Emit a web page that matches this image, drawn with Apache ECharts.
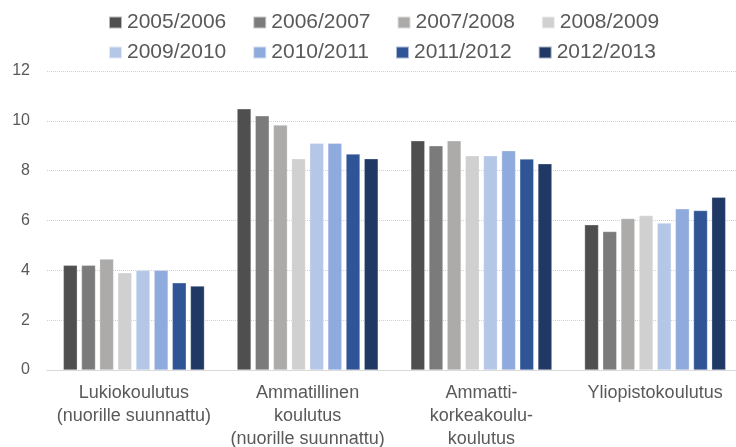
<!DOCTYPE html>
<html>
<head>
<meta charset="utf-8">
<script src="https://cdn.jsdelivr.net/npm/echarts@6/dist/echarts.min.js"></script>
<style>html,body{margin:0;padding:0;background:#fff;}#c{width:736px;height:447px;}</style>
</head>
<body>
<div id="c"></div>
<script>
var categories = ['Lukiokoulutus\n(nuorille suunnattu)', 'Ammatillinen\nkoulutus\n(nuorille suunnattu)', 'Ammatti-\nkorkeakoulu-\nkoulutus', 'Yliopistokoulutus'];
var seriesNames = ['2005/2006', '2006/2007', '2007/2008', '2008/2009', '2009/2010', '2010/2011', '2011/2012', '2012/2013'];
var s2005 = [4.2, 10.48, 9.2, 5.83];
var s2006 = [4.2, 10.2, 9.0, 5.56];
var s2007 = [4.45, 9.83, 9.2, 6.08];
var s2008 = [3.9, 8.48, 8.6, 6.2];
var s2009 = [4.0, 9.1, 8.6, 5.9];
var s2010 = [4.0, 9.1, 8.8, 6.47];
var s2011 = [3.5, 8.67, 8.47, 6.4];
var s2012 = [3.37, 8.48, 8.28, 6.93];
var yTicks = [0, 2, 4, 6, 8, 10, 12];
var colors = ['#4f4f4f', '#7b7b7b', '#adabaa', '#d1d0d0', '#b4c7e7', '#8faadc', '#2f5597', '#203864'];
var allData = [s2005, s2006, s2007, s2008, s2009, s2010, s2011, s2012];

var chart = echarts.init(document.getElementById('c'));
var textStyle = {color: '#595959', fontFamily: 'Liberation Sans', fontSize: 21};
function legend(names, top) {
  return {
    data: names, left: 108, top: top, itemWidth: 13, itemHeight: 12, itemGap: 26,
    icon: 'rect', orient: 'horizontal', textStyle: textStyle, padding: 0
  };
}
chart.setOption({
  animation: false,
  color: colors,
  legend: [legend(seriesNames.slice(0, 4), 12), legend(seriesNames.slice(4), 42)],
  grid: {left: 47, width: 695, top: 71, bottom: 77, containLabel: false, outerBoundsMode: 'none'},
  xAxis: {
    type: 'category', data: categories,
    axisLine: {lineStyle: {color: '#d9d9d9'}}, axisTick: {show: false},
    axisLabel: {color: '#595959', fontFamily: 'Liberation Sans', fontSize: 18, lineHeight: 23, margin: 12, interval: 0}
  },
  yAxis: {
    type: 'value', min: yTicks[0], max: yTicks[yTicks.length - 1], interval: 2,
    axisLine: {show: false}, axisTick: {show: false},
    axisLabel: {color: '#595959', fontFamily: 'Liberation Sans', fontSize: 16, margin: 17},
    splitLine: {lineStyle: {color: '#d0d0d0', type: 'dotted'}}
  },
  series: seriesNames.map(function (n, i) {
    return {
      name: n, type: 'bar', data: allData[i],
      barGap: '30%', barCategoryGap: '18.8%',
      itemStyle: {color: colors[i], borderColor: 'rgba(255,255,255,0.6)', borderWidth: 0.5}
    };
  })
});
</script>
</body>
</html>
